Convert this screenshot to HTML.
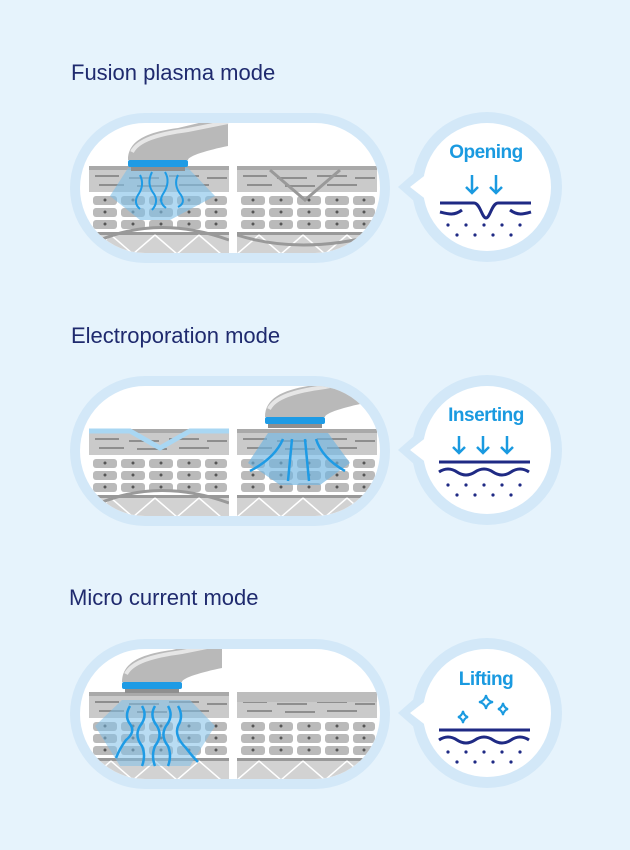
<!DOCTYPE html>
<html><head><meta charset="utf-8"><style>
html,body{margin:0;padding:0;background:#e6f3fc;}
svg{display:block}
.t{font-family:"Liberation Sans",sans-serif;font-size:22px;fill:#1f2a6e}
.b{font-family:"Liberation Sans",sans-serif;font-size:19px;font-weight:bold;fill:#1a9ae0;letter-spacing:-0.5px}
</style></head><body>
<svg width="630" height="850" viewBox="0 0 630 850" xmlns="http://www.w3.org/2000/svg">
<defs>
<clipPath id="pill"><rect x="80" y="123" width="300" height="130" rx="65"/></clipPath>
<g id="skin">
  <rect x="0" y="0" width="140" height="88" fill="#fff"/>
  <rect x="0" y="0" width="140" height="26" fill="#cacaca"/>
  <rect x="0" y="0" width="140" height="4" fill="#a9a9a9"/>
  <g stroke="#8e8e8e" stroke-width="2">
    <line x1="6" y1="10" x2="30" y2="10"/><line x1="40" y1="12" x2="70" y2="12"/><line x1="80" y1="10" x2="110" y2="10"/><line x1="118" y1="12" x2="138" y2="12"/>
    <line x1="10" y1="19" x2="35" y2="19"/><line x1="48" y1="20" x2="78" y2="20"/><line x1="90" y1="19" x2="120" y2="19"/>
  </g>
  <g fill="#bababa">
    <rect x="4" y="30" width="24" height="9" rx="3"/><rect x="32" y="30" width="24" height="9" rx="3"/><rect x="60" y="30" width="24" height="9" rx="3"/><rect x="88" y="30" width="24" height="9" rx="3"/><rect x="116" y="30" width="22" height="9" rx="3"/>
    <rect x="4" y="42" width="24" height="9" rx="3"/><rect x="32" y="42" width="24" height="9" rx="3"/><rect x="60" y="42" width="24" height="9" rx="3"/><rect x="88" y="42" width="24" height="9" rx="3"/><rect x="116" y="42" width="22" height="9" rx="3"/>
    <rect x="4" y="54" width="24" height="9" rx="3"/><rect x="32" y="54" width="24" height="9" rx="3"/><rect x="60" y="54" width="24" height="9" rx="3"/><rect x="88" y="54" width="24" height="9" rx="3"/><rect x="116" y="54" width="22" height="9" rx="3"/>
  </g>
  <g fill="#555"><circle cx="16" cy="34" r="1.5"/><circle cx="44" cy="34" r="1.5"/><circle cx="72" cy="34" r="1.5"/><circle cx="100" cy="34" r="1.5"/><circle cx="127" cy="34" r="1.5"/>
  <circle cx="16" cy="46" r="1.5"/><circle cx="44" cy="46" r="1.5"/><circle cx="72" cy="46" r="1.5"/><circle cx="100" cy="46" r="1.5"/><circle cx="127" cy="46" r="1.5"/>
  <circle cx="16" cy="58" r="1.5"/><circle cx="44" cy="58" r="1.5"/><circle cx="72" cy="58" r="1.5"/><circle cx="100" cy="58" r="1.5"/><circle cx="127" cy="58" r="1.5"/></g>
  <rect x="0" y="66" width="140" height="22" fill="#d2d2d2"/>
  <rect x="0" y="66" width="140" height="3" fill="#999"/>
  <g stroke="#fff" stroke-width="1.5"><line x1="0" y1="88" x2="22" y2="69"/><line x1="22" y1="69" x2="44" y2="88"/><line x1="44" y1="88" x2="66" y2="69"/><line x1="66" y1="69" x2="88" y2="88"/><line x1="88" y1="88" x2="110" y2="69"/><line x1="110" y1="69" x2="132" y2="88"/></g>
</g>
<g id="hand">
  <path d="M0 34 C0 14 20 6 50 2 L100 -10 L100 20 C80 24 60 30 60 34 Z" fill="#b9b9b9"/>
  <path d="M4 26 C10 14 30 8 60 4 L100 -4" stroke="#e6e6e6" stroke-width="4" fill="none"/>
  <rect x="0" y="34" width="60" height="7" rx="2" fill="#1e9be5"/>
  <rect x="3" y="41" width="54" height="4" fill="#8f8f8f"/>
</g>
<g id="bubble">
  <circle cx="487" cy="187" r="75" fill="#d3e8f8"/>
  <path d="M398 187 L422 166 L422 208 Z" fill="#d3e8f8"/>
  <circle cx="487" cy="187" r="64" fill="#fff"/>
  <path d="M410 187 L428 173 L428 201 Z" fill="#fff"/>
</g>
<g id="pillbg">
  <rect x="70" y="113" width="320" height="150" rx="75" fill="#d3e8f8"/>
  <rect x="80" y="123" width="300" height="130" rx="65" fill="#fff"/>
</g>
<g id="dots" fill="#1f2a84">
  <circle cx="448" cy="225" r="1.6"/><circle cx="466" cy="225" r="1.6"/><circle cx="484" cy="225" r="1.6"/><circle cx="502" cy="225" r="1.6"/><circle cx="520" cy="225" r="1.6"/>
  <circle cx="457" cy="235" r="1.6"/><circle cx="475" cy="235" r="1.6"/><circle cx="493" cy="235" r="1.6"/><circle cx="511" cy="235" r="1.6"/>
</g>
</defs>

<!-- Section 1 -->
<text class="t" x="71" y="80">Fusion plasma mode</text>
<use href="#pillbg"/>
<g clip-path="url(#pill)">
  <use href="#skin" x="89" y="166"/>
  <use href="#skin" x="237" y="166"/>
  <path d="M270 170 L305 200 L340 170" stroke="#999" stroke-width="3" fill="none"/>
  <path d="M100 240 Q160 215 229 240" stroke="#999" stroke-width="3" fill="none"/>
  <path d="M237 235 Q300 255 377 235" stroke="#999" stroke-width="3" fill="none"/>
  <rect x="229" y="123" width="8" height="130" fill="#fff"/>
  <path d="M128 168 L188 168 L215 196 L170 220 L140 220 L110 196 Z" fill="#7fbfe8" opacity="0.6"/>
  <g stroke="#1e9be5" stroke-width="2" fill="none"><path d="M140 175 q5 10 -2 20 q-5 8 2 14"/><path d="M152 172 q-6 12 2 22 q5 8 -2 16"/><path d="M165 172 q6 10 -2 22 q-5 8 3 14"/><path d="M178 175 q-5 10 3 20 q5 8 -3 12"/></g>
  <use href="#hand" x="128" y="126"/>
</g>
<use href="#bubble"/>
<text class="b" x="486" y="158" text-anchor="middle">Opening</text>
<g stroke="#1a9ae0" stroke-width="2.5" fill="none"><path d="M472 175 V193 M466 187 L472 193 L478 187"/><path d="M496 175 V193 M490 187 L496 193 L502 187"/></g>
<g stroke="#1f2a84" stroke-width="3" fill="none"><path d="M440 203 H474 C480 203 482 218 486 218 C490 218 492 203 498 203 H531"/><path d="M440 212 C448 214 454 216 462 210 M510 210 C518 216 524 214 531 212"/></g>
<use href="#dots"/>

<!-- Section 2 -->
<g transform="translate(0,263)">
<text class="t" x="71" y="80">Electroporation mode</text>
<use href="#pillbg"/>
<g clip-path="url(#pill)">
  <use href="#skin" x="89" y="166"/>
  <use href="#skin" x="237" y="166"/>
  <path d="M89 168 L130 168 L160 185 L190 168 L229 168" stroke="#a9d7f3" stroke-width="5" fill="none"/>
  <path d="M100 240 Q160 215 229 240" stroke="#999" stroke-width="3" fill="none"/>
  <rect x="229" y="123" width="8" height="130" fill="#fff"/>
  <path d="M268 170 L328 170 L350 200 L320 222 L280 222 L248 200 Z" fill="#6fb4e0" opacity="0.65"/>
  <g stroke="#1e9be5" stroke-width="2.5" fill="none"><path d="M283 176 Q275 195 250 208"/><path d="M292 176 L288 218"/><path d="M305 176 L309 218"/><path d="M316 176 Q322 195 345 208"/></g>
  <use href="#hand" x="265" y="120"/>
</g>
<use href="#bubble"/>
<text class="b" x="486" y="158" text-anchor="middle">Inserting</text>
<g stroke="#1a9ae0" stroke-width="2.5" fill="none"><path d="M459 173 V190 M453 184 L459 190 L465 184"/><path d="M483 173 V190 M477 184 L483 190 L489 184"/><path d="M507 173 V190 M501 184 L507 190 L513 184"/></g>
<g stroke="#1f2a84" stroke-width="3" fill="none"><path d="M439 199 H530"/><path d="M439 209 q9 -6 18 0 t18 0 t18 0 t18 0 t18 0"/></g>
<use href="#dots" y="-3"/>
</g>

<!-- Section 3 -->
<g transform="translate(0,526)">
<text class="t" x="69" y="79">Micro current mode</text>
<use href="#pillbg"/>
<g clip-path="url(#pill)">
  <use href="#skin" x="89" y="166"/>
  <use href="#skin" x="237" y="166"/>
  <rect x="237" y="166" width="140" height="10" fill="#bdbdbd"/>
  <rect x="229" y="123" width="8" height="130" fill="#fff"/>
  <path d="M122 174 L190 174 L215 200 L190 240 L120 240 L95 200 Z" fill="#7fbfe8" opacity="0.55"/>
  <g stroke="#1e9be5" stroke-width="2.5" fill="none"><path d="M130 180 q-6 10 0 18 q6 8 -4 16 q-6 8 -10 18"/><path d="M142 180 q6 10 -2 20 q-6 10 2 20 q4 10 0 20"/><path d="M155 180 q-6 10 2 20 q6 10 -2 20 q-4 10 0 20"/><path d="M168 180 q6 10 -2 20 q-6 10 2 20 q4 10 0 20"/><path d="M178 180 q6 10 0 20 q-4 10 8 22 q6 8 12 14"/></g>
  <use href="#hand" x="122" y="122"/>
</g>
<use href="#bubble"/>
<text class="b" x="486" y="159" text-anchor="middle">Lifting</text>
<g stroke="#1a9ae0" stroke-width="2" fill="#fff"><path d="M486 169 q1 6 7 7 q-6 1 -7 7 q-1 -6 -7 -7 q6 -1 7 -7Z"/><path d="M503 177 q1 5 5 6 q-4 1 -5 6 q-1 -5 -5 -6 q4 -1 5 -6Z"/><path d="M463 185 q1 5 5 6 q-4 1 -5 6 q-1 -5 -5 -6 q4 -1 5 -6Z"/></g>
<g stroke="#1f2a84" stroke-width="3" fill="none"><path d="M439 204 H530"/><path d="M439 214 q9 -6 18 0 t18 0 t18 0 t18 0 t18 0"/></g>
<use href="#dots" y="1"/>
</g>
</svg>
</body></html>
